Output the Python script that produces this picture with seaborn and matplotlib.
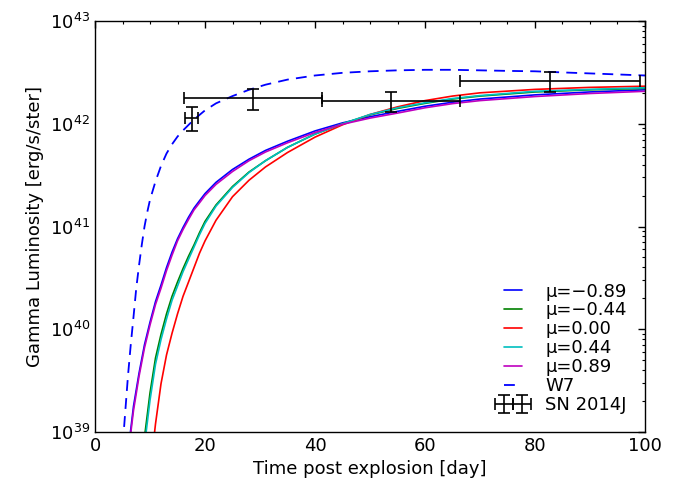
import numpy as np
import pandas as pd
import matplotlib
matplotlib.use("Agg")
import matplotlib.pyplot as plt
from matplotlib.ticker import AutoMinorLocator, LogLocator
import seaborn as sns

# ---------------- data ----------------
days_mu89 = [6, 7, 8, 9, 10, 11, 12, 13, 14, 15, 16, 17, 18, 19, 20, 22, 25,
             28, 31, 35, 40, 45, 50, 55, 60, 65, 70, 80, 90, 100]
lum_mu_m089 = [6.3e38, 1.78e39, 3.72e39, 7.08e39, 1.17e40, 1.86e40, 2.69e40,
               3.98e40, 5.62e40, 7.59e40, 9.77e40, 1.23e41, 1.51e41, 1.78e41,
               2.09e41, 2.69e41, 3.59e41, 4.52e41, 5.50e41, 6.76e41, 8.51e41,
               1.02e42, 1.17e42, 1.32e42, 1.48e42, 1.62e42, 1.74e42, 1.91e42,
               2.04e42, 2.14e42]
lum_mu_089 = [5.9e38, 1.62e39, 3.47e39, 6.61e39, 1.10e40, 1.74e40, 2.51e40,
              3.72e40, 5.25e40, 7.24e40, 9.33e40, 1.17e41, 1.45e41, 1.70e41,
              2.00e41, 2.57e41, 3.43e41, 4.37e41, 5.31e41, 6.53e41, 8.22e41,
              9.89e41, 1.135e42, 1.27e42, 1.43e42, 1.57e42, 1.68e42, 1.84e42,
              1.97e42, 2.07e42]

days_mu44 = [8.5, 9, 10, 11, 12, 13, 14, 15, 16, 17, 18, 19, 20, 22, 25, 28,
             31, 35, 40, 45, 50, 55, 60, 65, 70, 80, 90, 100]
lum_mu_m044 = [5.0e38, 8.9e38, 2.40e39, 5.25e39, 8.91e39, 1.41e40, 2.09e40,
               2.88e40, 3.89e40, 5.13e40, 6.61e40, 8.71e40, 1.12e41, 1.62e41,
               2.45e41, 3.39e41, 4.37e41, 5.89e41, 7.94e41, 1.00e42, 1.22e42,
               1.41e42, 1.58e42, 1.74e42, 1.86e42, 2.04e42, 2.14e42, 2.21e42]
lum_mu_044 = [4.0e38, 7.4e38, 2.04e39, 4.57e39, 7.94e39, 1.26e40, 1.91e40,
              2.63e40, 3.63e40, 4.79e40, 6.31e40, 8.32e40, 1.07e41, 1.58e41,
              2.40e41, 3.35e41, 4.37e41, 5.89e41, 7.94e41, 1.00e42, 1.23e42,
              1.43e42, 1.60e42, 1.76e42, 1.88e42, 2.07e42, 2.16e42, 2.24e42]

days_mu0 = [10, 11, 12, 13, 14, 15, 16, 17, 18, 19, 20, 22, 25, 28, 31, 35,
            40, 45, 50, 55, 60, 65, 70, 80, 90, 100]
lum_mu_000 = [4.0e38, 1.20e39, 2.95e39, 5.62e39, 9.12e39, 1.41e40, 2.09e40,
              2.88e40, 3.98e40, 5.50e40, 7.24e40, 1.15e41, 1.95e41, 2.82e41,
              3.80e41, 5.25e41, 7.41e41, 9.77e41, 1.23e42, 1.46e42, 1.68e42,
              1.86e42, 2.00e42, 2.16e42, 2.26e42, 2.32e42]

days_w7 = [4.8, 5.5, 6, 6.5, 7, 7.5, 8, 8.5, 9, 9.5, 10, 11, 12, 13, 14, 15,
           16, 18, 20, 22, 25, 28, 31, 35, 40, 45, 50, 55, 60, 65, 70, 75, 80,
           85, 90, 95, 100]
lum_w7 = [5.0e38, 1.58e39, 3.55e39, 7.08e39, 1.32e40, 2.51e40, 4.17e40,
          6.61e40, 1.00e41, 1.38e41, 1.82e41, 2.75e41, 3.89e41, 5.13e41,
          6.31e41, 7.50e41, 8.61e41, 1.10e42, 1.35e42, 1.58e42, 1.86e42,
          2.14e42, 2.40e42, 2.69e42, 2.95e42, 3.13e42, 3.24e42, 3.31e42,
          3.35e42, 3.35e42, 3.31e42, 3.27e42, 3.24e42, 3.16e42, 3.09e42,
          3.02e42, 2.95e42]

obs_day = [17.6, 28.7, 53.8, 82.7]
obs_day_err = [1.2, 12.5, 12.6, 16.4]
obs_lum = [1.15e42, 1.77e42, 1.68e42, 2.62e42]
obs_lum_err = [0.30e42, 0.41e42, 0.38e42, 0.60e42]

labels = ["μ=−0.89", "μ=−0.44", "μ=0.00", "μ=0.44", "μ=0.89"]
colors = ["#0000ff", "#008000", "#ff0000", "#00bfbf", "#bf00bf"]

# ---------------- plotting ----------------
sns.set_theme(style="white")
plt.rcParams["font.family"] = ["DejaVu Sans"]
plt.rcParams["mathtext.fontset"] = "dejavusans"
for key in ["text.color", "axes.labelcolor", "xtick.color", "ytick.color",
            "axes.edgecolor"]:
    plt.rcParams[key] = "black"

fig = plt.figure(figsize=(6.85, 4.83), dpi=100)
ax = fig.add_axes([0.1387, 0.1056, 0.8029, 0.8509])

series = [
    (days_mu89, lum_mu_m089),
    (days_mu44, lum_mu_m044),
    (days_mu0, lum_mu_000),
    (days_mu44, lum_mu_044),
    (days_mu89, lum_mu_089),
]
for (d, l), lab, c in zip(series, labels, colors):
    df = pd.DataFrame({"day": d, "lum": l})
    sns.lineplot(data=df, x="day", y="lum", ax=ax, color=c, lw=1.2,
                 label=lab, estimator=None, sort=False)

dfw = pd.DataFrame({"day": days_w7, "lum": lum_w7})
sns.lineplot(data=dfw, x="day", y="lum", ax=ax, color="#0000ff", lw=1.3,
             label="W7", estimator=None, sort=False)
ax.lines[-1].set_dashes((6, 4))

ax.errorbar(obs_day, obs_lum, xerr=obs_day_err, yerr=obs_lum_err,
            fmt="none", ecolor="black", elinewidth=1.2, capsize=4,
            capthick=1.2, label="SN 2014J")

ax.set_yscale("log")
ax.set_xlim(0, 100)
ax.set_ylim(1e39, 1e43)
ax.set_xticks([0, 20, 40, 60, 80, 100])
ax.xaxis.set_minor_locator(AutoMinorLocator(4))
ax.yaxis.set_major_locator(LogLocator(base=10, numticks=10))
ax.yaxis.set_minor_locator(LogLocator(base=10, subs=np.arange(2, 10), numticks=20))

ax.set_xlabel("Time post explosion [day]", fontsize=13)
ax.set_ylabel("Gamma Luminosity [erg/s/ster]", fontsize=13)
ax.tick_params(which="both", direction="in", top=True, right=True,
               labelsize=13, color="black", labelcolor="black")
ax.tick_params(which="major", length=5, width=1)
ax.tick_params(which="minor", length=2.5, width=0.8)
for s in ax.spines.values():
    s.set_color("black")
    s.set_linewidth(1.0)
ax.grid(False)

leg = ax.legend(loc="lower right", frameon=False, fontsize=13, numpoints=2,
                labelspacing=0.05, handlelength=1.6, handletextpad=1.0,
                borderaxespad=0.6)
for t in leg.get_texts():
    t.set_color("black")

fig.savefig("out.png", dpi=100)
